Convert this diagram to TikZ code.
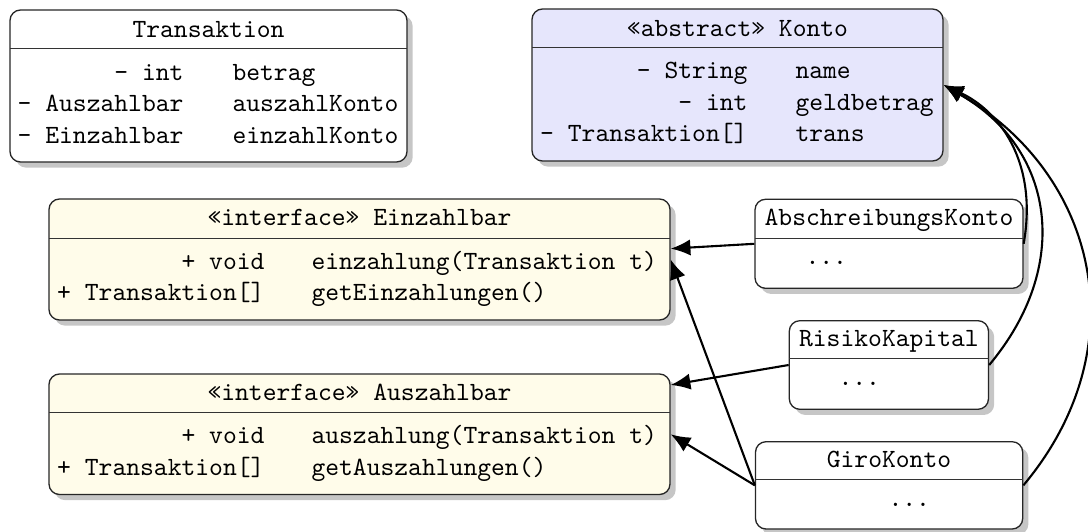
\documentclass[tikz,border=0pt]{standalone}
\usepackage{fontspec}
\usetikzlibrary{shadows,arrows.meta}
\definecolor{kontofill}{RGB}{230,230,252}
\definecolor{iffill}{RGB}{255,252,234}
\tikzset{
  cls/.style={draw=black!85, line width=0.5pt, rounded corners=4pt, inner sep=0pt,
              drop shadow={opacity=0.45}},
  sepline/.style={draw=black!80, line width=0.5pt},
  txt/.style={font=\ttfamily, inner sep=0pt},
  arr/.style={-{Latex[length=7.5pt,width=6.2pt]}, line width=0.8pt},
}
% name, x1, y1, x2, y2, header line y, fill
\newcommand\clsbox[7]{%
  \node[cls, fill=#7, minimum width={(#4-#2)*0.38pt}, minimum height={(#5-#3)*0.38pt}]
    (#1) at ({(#2+#4)/2},{(#3+#5)/2}) {};
  \draw[sepline] (#2,#6) -- (#4,#6);
}
\begin{document}
\begin{tikzpicture}[x=0.38pt, y=-0.38pt]
\useasboundingbox (0,0) rectangle (1088,531);

% Transaktion
\clsbox{trans}{10}{10}{407}{162}{48.5}{white}
\node[txt, anchor=base] (transT) at (208.5,37) {Transaktion};
\node[txt, anchor=base east] (trans1a) at (184,80) {- int};
\node[txt, anchor=base west] (trans1b) at (232,80) {betrag};
\node[txt, anchor=base east] (trans2a) at (184,111.5) {- Auszahlbar};
\node[txt, anchor=base west] (trans2b) at (232,111.5) {auszahlKonto};
\node[txt, anchor=base east] (trans3a) at (184,143) {- Einzahlbar};
\node[txt, anchor=base west] (trans3b) at (232,143) {einzahlKonto};

% Konto
\clsbox{konto}{532}{9}{943}{161}{47.5}{kontofill}
\node[txt, anchor=base] (kontoT) at (737.5,36) {«abstract» Konto};
\node[txt, anchor=base east] (konto1a) at (748,78.5) {- String};
\node[txt, anchor=base west] (konto1b) at (795,78.5) {name};
\node[txt, anchor=base east] (konto2a) at (748,110) {- int};
\node[txt, anchor=base west] (konto2b) at (795,110) {geldbetrag};
\node[txt, anchor=base east] (konto3a) at (748,141.5) {- Transaktion[]};
\node[txt, anchor=base west] (konto3b) at (795,141.5) {trans};

% Einzahlbar
\clsbox{einz}{49}{199}{670}{320}{238.3}{iffill}
\node[txt, anchor=base] (einzT) at (359.5,225) {«interface» Einzahlbar};
\node[txt, anchor=base east] (einz1a) at (265,269.3) {+ void};
\node[txt, anchor=base west] (einz1b) at (311,269.3) {einzahlung(Transaktion t)};
\node[txt, anchor=base east] (einz2a) at (265,300.8) {+ Transaktion[]};
\node[txt, anchor=base west] (einz2b) at (311,300.8) {getEinzahlungen()};

% Auszahlbar
\clsbox{ausz}{49}{374}{670}{494.5}{412.5}{iffill}
\node[txt, anchor=base] (auszT) at (359.5,400) {«interface» Auszahlbar};
\node[txt, anchor=base east] (ausz1a) at (265,443.5) {+ void};
\node[txt, anchor=base west] (ausz1b) at (311,443.5) {auszahlung(Transaktion t)};
\node[txt, anchor=base east] (ausz2a) at (265,475) {+ Transaktion[]};
\node[txt, anchor=base west] (ausz2b) at (311,475) {getAuszahlungen()};

% AbschreibungsKonto
\clsbox{abs}{755}{199.3}{1023}{288.3}{238.3}{white}
\node[txt, anchor=base] (absT) at (889,225) {AbschreibungsKonto};
\node[txt, anchor=base west] (absD) at (805,264.5) {...};

% RisikoKapital
\clsbox{risk}{789.3}{320.7}{988.5}{409.3}{358.3}{white}
\node[txt, anchor=base] (riskT) at (888.9,346.7) {RisikoKapital};
\node[txt, anchor=base west] (riskD) at (838,385.3) {...};

% GiroKonto
\clsbox{giro}{755.5}{441.7}{1022.7}{529}{479.3}{white}
\node[txt, anchor=base] (giroT) at (889,467.3) {GiroKonto};
\node[txt, anchor=base west] (giroD) at (888,506.3) {...};

% realisations
\draw[arr] (abs.west) -- (einz.2);
\draw[arr] (risk.west) -- (ausz.9);
\draw[arr] (giro.west) -- (einz.east);
\draw[arr] (giro.west) -- (ausz.east);

% generalisations
\draw[arr] (abs.east) to[out=80, in=-25, out distance=32pt, in distance=23pt] (konto.east);
\draw[arr] (risk.east) to[out=50, in=-30, out distance=49pt, in distance=49pt] (konto.east);
\draw[arr] (giro.east) to[out=50, in=-30, out distance=68pt, in distance=68pt] (konto.east);
\end{tikzpicture}
\end{document}
